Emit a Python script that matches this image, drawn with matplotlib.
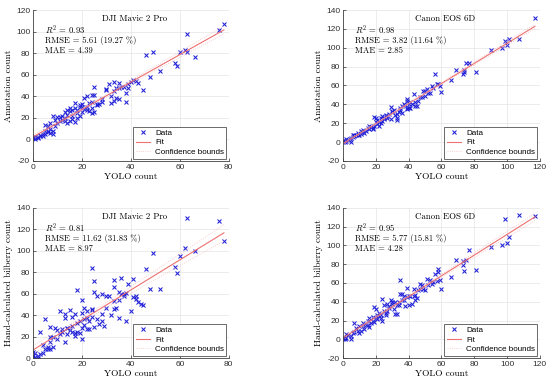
import matplotlib.pyplot as plt
import numpy as np

plt.rcParams['mathtext.fontset'] = 'cm'
plt.rcParams['axes.unicode_minus'] = False

# DJI Mavic 2 Pro - annotation count vs YOLO count
dji_ann_x = [78, 76, 63, 46, 49, 60, 62, 63, 66, 58, 59, 52, 48, 45, 41, 42, 43, 40, 38, 38, 39, 39, 37, 36,
             35, 35, 33, 34, 33, 32, 33, 34, 35, 32, 30, 30, 31, 28, 28, 26, 25, 24, 24, 24, 25, 24, 25, 23,
             22, 21, 20, 19, 20, 19, 18, 18, 17, 17, 16, 16, 15, 15, 14, 14, 13, 14, 13, 12, 12, 11, 10, 10,
             9, 9, 8, 8, 8, 7, 7, 7, 6, 6, 5, 5, 5, 4, 4, 3, 3, 2, 2, 1, 1, 0, 0, 6, 11, 13, 15, 16, 17, 18,
             19, 21, 22, 23, 26, 27, 20, 22]
dji_ann_y = [107, 101, 98, 78, 81, 81, 83, 81, 76, 71, 68, 63, 58, 46, 55, 54, 52, 53, 35, 43, 48, 51, 49, 49,
             48, 52, 53, 48, 45, 40, 36, 38, 37, 34, 47, 46, 51, 37, 35, 33, 41, 41, 35, 29, 25, 24, 49, 26,
             40, 38, 33, 32, 25, 22, 27, 20, 34, 29, 22, 19, 29, 26, 27, 23, 17, 15, 20, 18, 22, 21, 21, 15,
             18, 12, 22, 5, 8, 15, 10, 6, 8, 7, 13, 8, 5, 5, 3, 4, 3, 2, 1, 2, 0, 1, 2, 12, 17, 25, 17, 27,
             16, 24, 30, 28, 27, 34, 32, 33, 30, 30]

# Canon EOS 6D - annotation count vs YOLO count
canon_ann_x = [117, 107, 101, 100, 99, 97, 90, 81, 77, 75, 74, 73, 74, 69, 66, 60, 59, 57, 56, 55, 54, 52, 51,
               50, 49, 48, 46, 44, 43, 42, 41, 40, 39, 39, 39, 39, 38, 37, 36, 35, 34, 33, 33, 33, 32, 30, 29,
               28, 27, 26, 25, 25, 24, 23, 22, 21, 20, 20, 19, 19, 18, 18, 17, 16, 15, 14, 13, 12, 11, 11, 10,
               9, 8, 7, 6, 6, 5, 5, 4, 3, 2, 2, 1, 1, 0, 0, 30, 31, 27, 24, 22, 26, 23, 35, 36, 41, 44, 47, 53,
               58, 50, 45, 40, 29, 21, 16, 12, 9, 7]
canon_ann_y = [131, 109, 109, 103, 107, 100, 98, 74, 84, 84, 76, 72, 74, 76, 66, 53, 59, 62, 72, 57, 59, 52, 56,
               54, 54, 48, 44, 38, 51, 40, 36, 40, 46, 44, 36, 35, 39, 40, 38, 36, 32, 30, 26, 23, 29, 33, 37,
               30, 28, 27, 26, 24, 22, 20, 17, 23, 25, 21, 27, 17, 15, 14, 16, 14, 15, 12, 10, 11, 12, 9, 8,
               7, 7, 6, 5, 7, 0, 4, 3, 2, 3, 1, 1, 0, 0, 1, 32, 34, 25, 28, 21, 29, 26, 34, 31, 43, 42, 48, 52,
               62, 49, 38, 36, 24, 19, 17, 13, 10, 8]

# DJI Mavic 2 Pro - hand-calculated bilberry count vs YOLO count
dji_hand_x = [63, 76, 78, 62, 66, 60, 49, 58, 59, 46, 48, 52, 45, 43, 41, 42, 41, 39, 38, 38, 37, 36, 35, 35,
              35, 33, 33, 33, 33, 34, 32, 31, 30, 30, 28, 28, 28, 26, 25, 25, 24, 24, 24, 24, 23, 22, 22, 21,
              21, 21, 20, 20, 20, 20, 19, 18, 18, 18, 17, 17, 16, 16, 15, 15, 14, 14, 13, 13, 13, 12, 11, 11,
              10, 10, 9, 8, 8, 7, 7, 7, 7, 6, 6, 5, 5, 4, 4, 3, 3, 2, 2, 1, 1, 0, 0, 23, 25, 27, 19, 16, 12,
              14, 17, 22, 26, 29, 36, 37, 40, 42, 44]
dji_hand_y = [131, 128, 109, 103, 100, 95, 98, 85, 79, 83, 64, 64, 49, 52, 57, 55, 74, 69, 61, 35, 60, 75, 62, 54,
              37, 73, 66, 53, 46, 47, 40, 58, 58, 47, 60, 41, 35, 58, 62, 72, 84, 46, 45, 38, 35, 44, 37, 47,
              36, 31, 54, 42, 28, 18, 23, 63, 33, 24, 41, 23, 38, 30, 45, 26, 28, 22, 41, 15, 37, 24, 44, 22,
              18, 26, 28, 20, 10, 20, 29, 15, 8, 8, 10, 36, 8, 12, 5, 24, 4, 0, 2, 1, 5, 2, 6, 27, 29, 32,
              35, 24, 27, 28, 21, 27, 36, 30, 60, 58, 44, 58, 50]

# Canon EOS 6D - hand-calculated bilberry count vs YOLO count
canon_hand_x = [117, 107, 99, 101, 100, 97, 90, 81, 77, 75, 74, 73, 73, 69, 66, 60, 59, 58, 58, 57, 56, 55, 54,
                52, 51, 50, 49, 48, 47, 45, 44, 44, 43, 42, 41, 40, 40, 39, 39, 38, 37, 36, 36, 35, 35, 34, 33,
                32, 32, 30, 29, 28, 27, 26, 25, 25, 24, 24, 23, 22, 21, 20, 20, 19, 19, 18, 17, 16, 16, 15, 14,
                13, 12, 11, 10, 10, 9, 8, 7, 7, 6, 5, 5, 3, 2, 2, 1, 1, 0, 0, 21, 22, 23, 26, 27, 28, 30, 31,
                33, 34, 18, 15, 12, 37, 43, 46, 53, 47]
canon_hand_y = [131, 132, 128, 109, 103, 100, 98, 74, 95, 84, 73, 83, 79, 85, 66, 54, 63, 75, 72, 62, 70, 61, 59,
                58, 64, 52, 54, 58, 54, 44, 47, 42, 54, 38, 46, 46, 36, 55, 45, 35, 42, 42, 48, 63, 48, 36, 27,
                27, 40, 40, 42, 35, 30, 28, 36, 30, 43, 19, 26, 25, 22, 32, 23, 34, 18, 20, 17, 13, 23, 15, 15,
                11, 17, 9, 14, 7, 9, 12, 17, 8, 7, 0, 4, 5, 6, 1, 1, 0, 0, 1, 26, 28, 23, 26, 38, 33, 38, 32,
                36, 40, 24, 20, 14, 46, 46, 52, 63, 59]

panels = [
    (dji_ann_x, dji_ann_y, 'DJI Mavic 2 Pro', 'Annotation count', (0, 80), (-20, 120),
     ['$R^2$ = 0.93', 'RMSE = 5.61 (19.27 %)', 'MAE = 4.39']),
    (canon_ann_x, canon_ann_y, 'Canon EOS 6D', 'Annotation count', (0, 120), (-20, 140),
     ['$R^2$ = 0.98', 'RMSE = 3.82 (11.64 %)', 'MAE = 2.85']),
    (dji_hand_x, dji_hand_y, 'DJI Mavic 2 Pro', 'Hand-calculated bilberry count', (0, 80), (0, 140),
     ['$R^2$ = 0.81', 'RMSE = 11.62 (31.83 %)', 'MAE = 8.97']),
    (canon_hand_x, canon_hand_y, 'Canon EOS 6D', 'Hand-calculated bilberry count', (0, 120), (-20, 140),
     ['$R^2$ = 0.95', 'RMSE = 5.77 (15.81 %)', 'MAE = 4.28']),
]

positions = [[0.06, 0.582, 0.356, 0.392], [0.6236, 0.582, 0.358, 0.392],
             [0.06, 0.07, 0.356, 0.39], [0.6236, 0.07, 0.358, 0.39]]

serif = 'cmr10'
fig = plt.figure(figsize=(5.5, 3.85), dpi=100)

for (x, y, title, ylab, xl, yl, stats), pos in zip(panels, positions):
    ax = fig.add_axes(pos)
    x = np.array(x, float)
    y = np.array(y, float)
    p = np.polyfit(x, y, 1)
    xs = np.linspace(x.min(), x.max(), 100)
    ys = np.polyval(p, xs)
    n = len(x)
    s = np.sqrt(np.sum((y - np.polyval(p, x)) ** 2) / (n - 2))
    se = s * np.sqrt(1 / n + (xs - x.mean()) ** 2 / np.sum((x - x.mean()) ** 2))

    ax.plot(x, y, 'x', color='#2020d8', ms=2.8, mew=0.75, label='Data')
    ax.plot(xs, ys, color='#ee7070', lw=0.8, label='Fit')
    ax.plot(xs, ys + 1.98 * se, color='#f6c0c0', lw=0.6, ls=':', label='Confidence bounds')
    ax.plot(xs, ys - 1.98 * se, color='#f6c0c0', lw=0.6, ls=':')

    ax.set_xlim(xl)
    ax.set_ylim(yl)
    ax.grid(True, color='#e4e4e4', lw=0.5)
    ax.set_axisbelow(True)
    for sp in ['top', 'right']:
        ax.spines[sp].set_visible(False)
    for sp in ['left', 'bottom']:
        ax.spines[sp].set_color('#404040')
        ax.spines[sp].set_linewidth(0.6)
    ax.tick_params(direction='in', length=2, width=0.5, labelsize=6, colors='#303030', pad=2)
    for lab in ax.get_xticklabels() + ax.get_yticklabels():
        lab.set_family('Liberation Sans')

    ax.set_xlabel('YOLO count', family=serif, fontsize=6.8, labelpad=1)
    ax.set_ylabel(ylab, family=serif, fontsize=6.8, labelpad=2)
    ax.text(0.52, 0.94, title, transform=ax.transAxes, ha='center', va='center',
            family=serif, fontsize=6.4)
    for i, st in enumerate(stats):
        ax.text(0.06, 0.865 - i * 0.068, st, transform=ax.transAxes, ha='left', va='center',
                family=serif, fontsize=6.2)

    leg = ax.legend(loc='lower right', prop={'family': 'Liberation Sans', 'size': 5.8},
                    fancybox=False, edgecolor='#303030', framealpha=1, borderpad=0.3,
                    handlelength=1.8, handletextpad=0.6, labelspacing=0.25, borderaxespad=0.3)
    leg.get_frame().set_linewidth(0.5)

fig.savefig('out.png', dpi=100)
